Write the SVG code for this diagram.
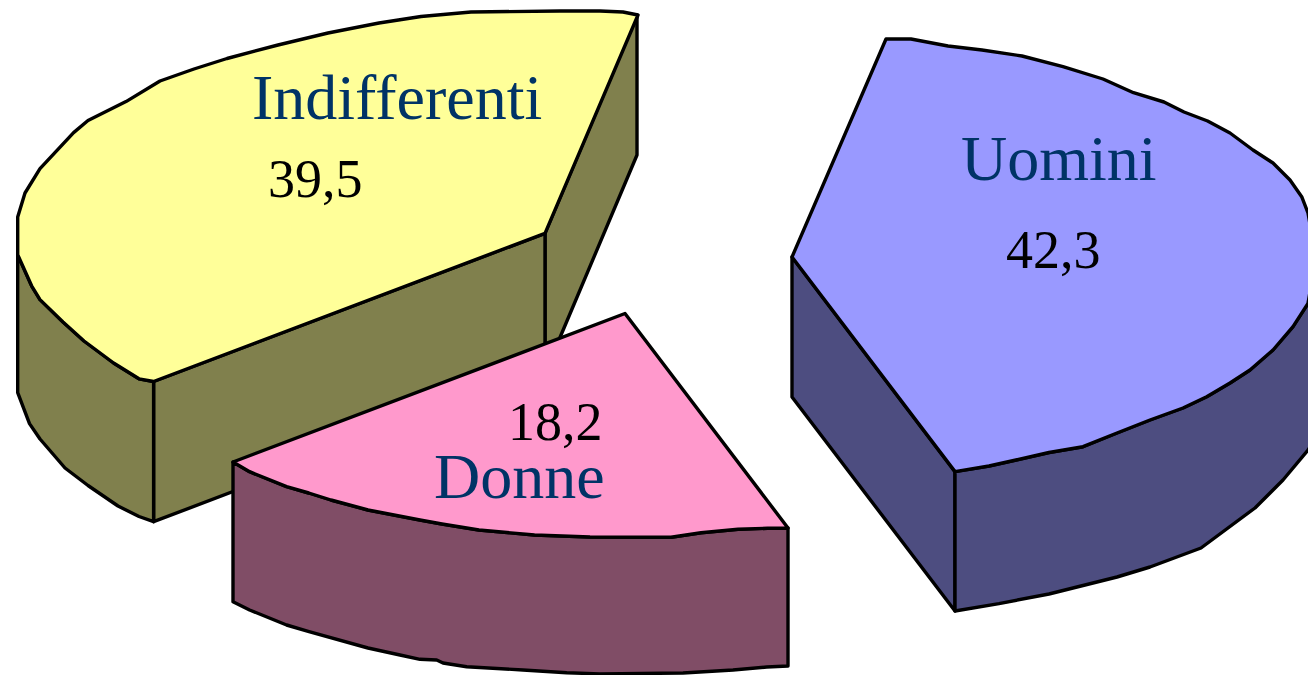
<svg xmlns="http://www.w3.org/2000/svg" width="1308" height="675" viewBox="0 0 1308 675">
<style>
.e{stroke:#000;stroke-width:3.4;stroke-linejoin:round}
.yt{fill:#FFFF99}.ys{fill:#80804D}
.pt{fill:#FF99CC}.ps{fill:#804D66}
.bt{fill:#9999FF}.bs{fill:#4D4D80}
.lab{font-family:"Liberation Serif","Times New Roman",serif;font-size:64px;fill:#003366}
.num{font-family:"Liberation Serif","Times New Roman",serif;font-size:54px;fill:#000}
</style>
<rect width="1308" height="675" fill="#fff"/>
<g id="indifferenti">
<path class="e ys" d="M545,233.3 L637,15 L637,155 L545,373 Z"/>
<path class="e ys" d="M153.6,381.5 L545,233.3 L545,373 L153.6,521.7 Z"/>
<path class="e ys" d="M17.7,240 L17.7,254.8 L31.6,285.8 L40,299.6 L63,322 L84,341 L113.6,363 L139,378.8 L153.6,381.5 L153.6,521.7 L139,516.5 L118,506 L88,485.5 L65,468 L40,439 L29.5,423.6 L17.7,392.6 Z"/>
<path class="e yt" d="M153.6,381.5 L545,233.3 L638,15 L623,12 L600,11 L560,11 L471,12 L421,16.5 L379,23 L328,33 L278,45 L227,58.5 L194,69 L160,81 L126,101.6 L88,120.5 L73.6,132.6 L40,168.7 L25,193 L17.7,217 L17.7,254.8 L31.6,285.8 L40,299.6 L63,322 L84,341 L113.6,363 L139,378.8 Z"/>
<text class="lab" x="252" y="118.5">Indifferenti</text>
<text class="num" x="268" y="197">39,5</text>
</g>
<g id="uomini">
<path class="e bs" d="M792,257 L955,471.6 L955,611 L792,397 Z"/>
<path class="e bs" d="M955,471.6 L989,466 L1016,460 L1049,452.5 L1083,446.7 L1117,433 L1150,420 L1183,408 L1206.7,396.7 L1230,383 L1250,370 L1273,350 L1293,326.7 L1308,303.3 L1316,258 L1322,258 L1322,430 L1308,450 L1283,480 L1255,508 L1201,548 L1150,567 L1117,577 L1049,594 L999,603.6 L955,611 Z"/>
<path class="e bt" d="M792,257 L886,39 L911,39 L948,46 L982,50 L1022,56 L1063,66.7 L1103,79 L1133.5,92.7 L1164,102 L1184,112 L1207.6,121 L1230,133 L1253,150 L1273,163 L1290,180 L1301.7,196.7 L1308,213 L1316,258 L1308,303.3 L1293,326.7 L1273,350 L1250,370 L1230,383 L1206.7,396.7 L1183,408 L1150,420 L1117,433 L1083,446.7 L1049,452.5 L1016,460 L989,466 L955,471.6 Z"/>
<text class="lab" x="961" y="180">Uomini</text>
<text class="num" x="1006" y="268.3">42,3</text>
</g>
<g id="donne">
<path class="e ps" d="M233,462 L249.6,471.7 L286.6,486.7 L308.8,493 L331,500 L368,510 L420,520 L442,524 L479,530 L534.5,535 L590,537 L671,537.3 L701,532.7 L738,529.3 L767.5,528.3 L788,528 L788,666 L766.7,667 L733,670 L683,673 L600,674 L566.7,672.7 L523,670 L466.7,666.7 L443,663 L436.7,660 L420,659.3 L400,655 L368,648 L309,631.7 L286.6,625 L249.6,610 L233,601.7 Z"/>
<path class="e pt" d="M625,313.5 L788,528 L767.5,528.3 L738,529.3 L701,532.7 L671,537.3 L590,537 L534.5,535 L479,530 L442,524 L420,520 L368,510 L331,500 L308.8,493 L286.6,486.7 L249.6,471.7 L233,462 Z"/>
<text class="num" x="508" y="440">18,2</text>
<text class="lab" x="434" y="498.3">Donne</text>
</g>
</svg>
